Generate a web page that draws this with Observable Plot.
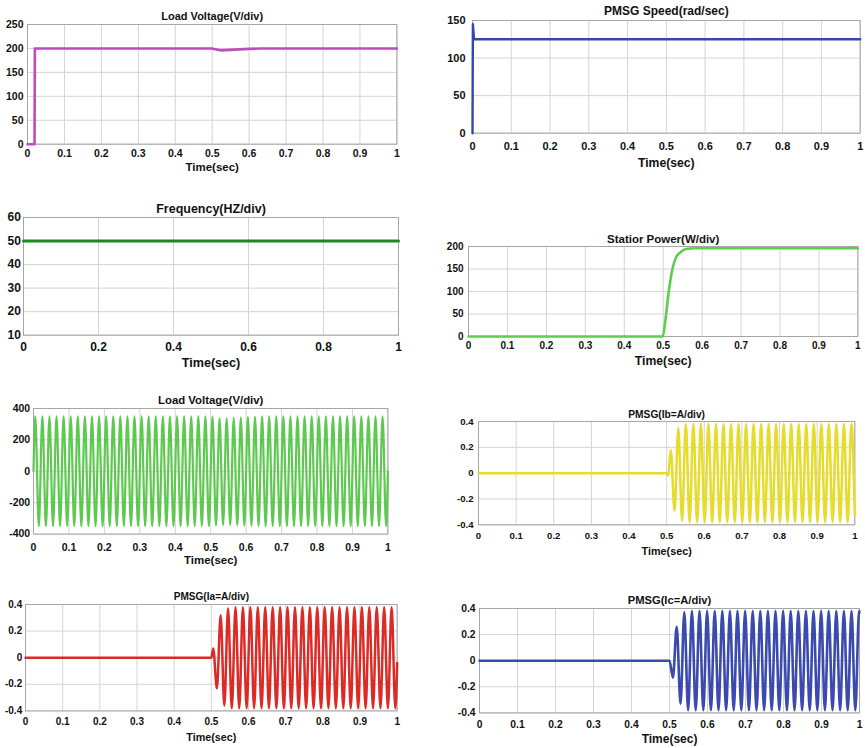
<!DOCTYPE html>
<html><head><meta charset="utf-8">
<script src="https://cdn.jsdelivr.net/npm/d3@7"></script>
<script src="https://cdn.jsdelivr.net/npm/@observablehq/plot@0.6"></script>
<style>
body{margin:0;background:#fff;}
#wrap{position:relative;width:865px;height:748px;overflow:hidden;background:#fff;}
#wrap svg{position:absolute;overflow:visible;}
</style></head><body><div id="wrap"></div>
<script>
// ---------- tick labels ----------
const xTicks10 = [0,0.1,0.2,0.3,0.4,0.5,0.6,0.7,0.8,0.9,1];
const xTicks5 = [0,0.2,0.4,0.6,0.8,1];
const yTicksVdc = [0,50,100,150,200,250];
const yTicksSpeed = [0,50,100,150];
const yTicksFreq = [10,20,30,40,50,60];
const yTicksPower = [0,50,100,150,200];
const yTicksVac = [-400,-200,0,200,400];
const yTicksI = [-0.4,-0.2,0,0.2,0.4];

// ---------- DC load voltage ----------
const vdcT = [0, 0.019, 0.02, 0.5, 0.505, 0.522, 0.56, 0.6, 0.63, 1];
const vdcV = [0, 0, 200, 200, 199, 196, 197.5, 199, 200, 200];

// ---------- PMSG speed ----------
const spdT = [0, 0.001, 0.004, 1];
const spdV = [0, 145, 125, 125];

// ---------- frequency ----------
const frqT = [0, 1];
const frqV = [50, 50];

// ---------- stator power ----------
const pwrT = [0, 0.499, 0.505, 0.514, 0.522, 0.531, 0.544, 0.561, 0.58, 1];
const pwrV = [0, 0, 32, 98, 143, 172, 187, 195, 196, 196];

// ---------- AC load voltage (extrema) ----------
const lvT = [0,
 0.005,0.015,0.025,0.035,0.045,0.055,0.065,0.075,0.085,0.095,
 0.105,0.115,0.125,0.135,0.145,0.155,0.165,0.175,0.185,0.195,
 0.205,0.215,0.225,0.235,0.245,0.255,0.265,0.275,0.285,0.295,
 0.305,0.315,0.325,0.335,0.345,0.355,0.365,0.375,0.385,0.395,
 0.405,0.415,0.425,0.435,0.445,0.455,0.465,0.475,0.485,0.495,
 0.505,0.515,0.525,0.535,0.545,0.555,0.565,0.575,0.585,0.595,
 0.605,0.615,0.625,0.635,0.645,0.655,0.665,0.675,0.685,0.695,
 0.705,0.715,0.725,0.735,0.745,0.755,0.765,0.775,0.785,0.795,
 0.805,0.815,0.825,0.835,0.845,0.855,0.865,0.875,0.885,0.895,
 0.905,0.915,0.925,0.935,0.945,0.955,0.965,0.975,0.985,0.995,
 1];
const lvV = [0,
 350,-350,350,-350,350,-350,350,-350,350,-350,
 350,-350,350,-350,350,-350,350,-350,350,-350,
 350,-350,350,-350,350,-350,350,-350,350,-350,
 350,-350,350,-350,350,-350,350,-350,350,-350,
 350,-350,350,-350,350,-350,350,-350,350,-350,
 348,-345,338,-342,338,-342,340,-343,342,-345,
 345,-347,347,-348,350,-350,350,-350,350,-350,
 350,-350,350,-350,350,-350,350,-350,350,-350,
 350,-350,350,-350,350,-350,350,-350,350,-350,
 350,-350,350,-350,350,-350,350,-350,350,-350,
 0];

// ---------- PMSG Ia (extrema) ----------
const iaT = [0, 0.5,
 0.505,0.515,0.525,0.535,0.545,0.555,0.565,0.575,0.585,0.595,
 0.605,0.615,0.625,0.635,0.645,0.655,0.665,0.675,0.685,0.695,
 0.705,0.715,0.725,0.735,0.745,0.755,0.765,0.775,0.785,0.795,
 0.805,0.815,0.825,0.835,0.845,0.855,0.865,0.875,0.885,0.895,
 0.905,0.915,0.925,0.935,0.945,0.955,0.965,0.975,0.985,0.995,
 1];
const iaV = [0, 0,
 0.07,-0.23,0.32,-0.36,0.37,-0.38,0.38,-0.38,0.38,-0.38,
 0.38,-0.38,0.38,-0.38,0.38,-0.38,0.38,-0.38,0.38,-0.38,
 0.38,-0.38,0.38,-0.38,0.38,-0.38,0.38,-0.38,0.38,-0.38,
 0.38,-0.38,0.38,-0.38,0.38,-0.38,0.38,-0.38,0.38,-0.38,
 0.38,-0.38,0.38,-0.38,0.38,-0.38,0.38,-0.38,0.38,-0.38,
 -0.04];

// ---------- PMSG Ib (extrema) ----------
const ibT = [0, 0.5, 0.504,
 0.511,0.521,0.531,0.541,0.551,0.561,0.571,0.581,0.591,0.601,
 0.611,0.621,0.631,0.641,0.651,0.661,0.671,0.681,0.691,0.701,
 0.711,0.721,0.731,0.741,0.751,0.761,0.771,0.781,0.791,0.801,
 0.811,0.821,0.831,0.841,0.851,0.861,0.871,0.881,0.891,0.901,
 0.911,0.921,0.931,0.941,0.951,0.961,0.971,0.981,0.991,
 1];
const ibV = [0, 0, -0.02,
 0.18,-0.29,0.35,-0.37,0.38,-0.38,0.38,-0.38,0.38,-0.38,
 0.38,-0.38,0.38,-0.38,0.38,-0.38,0.38,-0.38,0.38,-0.38,
 0.38,-0.38,0.38,-0.38,0.38,-0.38,0.38,-0.38,0.38,-0.38,
 0.38,-0.38,0.38,-0.38,0.38,-0.38,0.38,-0.38,0.38,-0.38,
 0.38,-0.38,0.38,-0.38,0.38,-0.38,0.38,-0.38,0.38,
 -0.32];

// ---------- PMSG Ic (extrema) ----------
const icT = [0, 0.5,
 0.509,0.519,0.529,0.539,0.549,0.559,0.569,0.579,0.589,0.599,
 0.609,0.619,0.629,0.639,0.649,0.659,0.669,0.679,0.689,0.699,
 0.709,0.719,0.729,0.739,0.749,0.759,0.769,0.779,0.789,0.799,
 0.809,0.819,0.829,0.839,0.849,0.859,0.869,0.879,0.889,0.899,
 0.909,0.919,0.929,0.939,0.949,0.959,0.969,0.979,0.989,0.999,
 1];
const icV = [0, 0,
 -0.13,0.26,-0.33,0.37,-0.38,0.38,-0.38,0.38,-0.38,0.38,
 -0.38,0.38,-0.38,0.38,-0.38,0.38,-0.38,0.38,-0.38,0.38,
 -0.38,0.38,-0.38,0.38,-0.38,0.38,-0.38,0.38,-0.38,0.38,
 -0.38,0.38,-0.38,0.38,-0.38,0.38,-0.38,0.38,-0.38,0.38,
 -0.38,0.38,-0.38,0.38,-0.38,0.38,-0.38,0.38,-0.38,0.38,
 0.37];

const rows = (T, V) => T.map((t, i) => ({t, v: V[i]}));
const FONT = '"Liberation Sans", Arial, Helvetica, sans-serif';
const wrap = document.getElementById('wrap');

function panel(o) {
  const ml = 48, mt = 32, mr = 8, mb = 42;
  const w = o.R - o.L, h = o.B - o.T;
  const txt = {fontWeight: 'bold', fill: '#111', fontFamily: FONT, lineAnchor: 'middle'};
  const svg = Plot.plot({
    width: w + ml + mr, height: h + mt + mb,
    marginLeft: ml, marginTop: mt, marginRight: mr, marginBottom: mb,
    x: {domain: [0, 1], axis: null},
    y: {domain: o.yDomain, axis: null},
    style: {background: 'transparent', fontFamily: FONT, overflow: 'visible'},
    marks: [
      Plot.gridX(o.xTicks, {stroke: '#d4d4d4', strokeOpacity: 1, strokeWidth: 1}),
      Plot.gridY(o.yTicks, {stroke: '#d4d4d4', strokeOpacity: 1, strokeWidth: 1}),
      Plot.frame({stroke: '#a6a6a6', strokeWidth: 1}),
      Plot.line(o.data, {x: 't', y: 'v', stroke: o.color, strokeWidth: o.sw, curve: o.curve || 'linear'}),
      Plot.text(o.xTicks, {x: d => d, frameAnchor: 'bottom', dy: o.xtickY - o.B, text: d => String(d),
        fontSize: o.fs, ...txt}),
      Plot.text(o.yTicks, {y: d => d, frameAnchor: 'left', dx: -o.ygap, textAnchor: 'end', text: d => String(d),
        fontSize: o.fs, ...txt}),
      Plot.text([o.title], {frameAnchor: 'top', dy: o.titleY - o.T, text: d => d,
        fontSize: o.tfs, ...txt}),
      Plot.text(['Time(sec)'], {frameAnchor: 'bottom', dy: o.xlabelY - o.B, text: d => d,
        fontSize: o.lfs, ...txt})
    ]
  });
  svg.style.left = (o.L - ml) + 'px';
  svg.style.top = (o.T - mt) + 'px';
  wrap.appendChild(svg);
}

panel({L: 27.3, T: 24.3, R: 396.7, B: 144, yDomain: [0, 250], xTicks: xTicks10, yTicks: yTicksVdc,
  data: rows(vdcT, vdcV), color: '#c24ac0', sw: 2.6, title: 'Load Voltage(V/div)',
  fs: 10.5, tfs: 11, lfs: 11.5, titleY: 16, xtickY: 153, xlabelY: 167, ygap: 4});

panel({L: 472.3, T: 20, R: 860, B: 132.7, yDomain: [0, 150], xTicks: xTicks10, yTicks: yTicksSpeed,
  data: rows(spdT, spdV), color: '#3446b2', sw: 2.4, title: 'PMSG Speed(rad/sec)',
  fs: 11, tfs: 12, lfs: 12.2, titleY: 11, xtickY: 145.7, xlabelY: 163, ygap: 7});

panel({L: 23.3, T: 217.3, R: 398.3, B: 335, yDomain: [10, 60], xTicks: xTicks5, yTicks: yTicksFreq,
  data: rows(frqT, frqV), color: '#1b8a1e', sw: 3, title: 'Frequency(HZ/div)',
  fs: 12, tfs: 12.5, lfs: 12.6, titleY: 209, xtickY: 346.7, xlabelY: 363, ygap: 2.6});

panel({L: 468.3, T: 246, R: 857.7, B: 336, yDomain: [0, 200], xTicks: xTicks10, yTicks: yTicksPower,
  data: rows(pwrT, pwrV), color: '#5ccd4c', sw: 2.6, curve: 'monotone-x', title: 'Statior Power(W/div)',
  fs: 10, tfs: 11.5, lfs: 12.2, titleY: 239, xtickY: 345.7, xlabelY: 361, ygap: 5});

panel({L: 33.3, T: 407.7, R: 387.7, B: 533.3, yDomain: [-400, 400], xTicks: xTicks10, yTicks: yTicksVac,
  data: rows(lvT, lvV), color: '#5ec951', sw: 2.2, curve: 'monotone-x', title: 'Load Voltage(V/div)',
  fs: 10.5, tfs: 11.4, lfs: 11.5, titleY: 400, xtickY: 546.7, xlabelY: 560, ygap: 3.3});

panel({L: 477.7, T: 421, R: 854, B: 524.3, yDomain: [-0.4, 0.4], xTicks: xTicks10, yTicks: yTicksI,
  data: rows(ibT, ibV), color: '#e6dc2c', sw: 2.5, curve: 'monotone-x', title: 'PMSG(Ib=A/div)',
  fs: 9.6, tfs: 10.2, lfs: 10.8, titleY: 414.3, xtickY: 535.7, xlabelY: 551, ygap: 5});

panel({L: 25, T: 604.3, R: 396.7, B: 710.7, yDomain: [-0.4, 0.4], xTicks: xTicks10, yTicks: yTicksI,
  data: rows(iaT, iaV), color: '#dc2b26', sw: 2.5, curve: 'monotone-x', title: 'PMSG(Ia=A/div)',
  fs: 10, tfs: 10.1, lfs: 10.8, titleY: 596.7, xtickY: 721.7, xlabelY: 737.7, ygap: 3.3});

panel({L: 479, T: 608.3, R: 859, B: 712.7, yDomain: [-0.4, 0.4], xTicks: xTicks10, yTicks: yTicksI,
  data: rows(icT, icV), color: '#3a4aae', sw: 2.6, curve: 'monotone-x', title: 'PMSG(Ic=A/div)',
  fs: 10.3, tfs: 11.2, lfs: 12, titleY: 600, xtickY: 724.3, xlabelY: 739.3, ygap: 4});
</script>
</body></html>
